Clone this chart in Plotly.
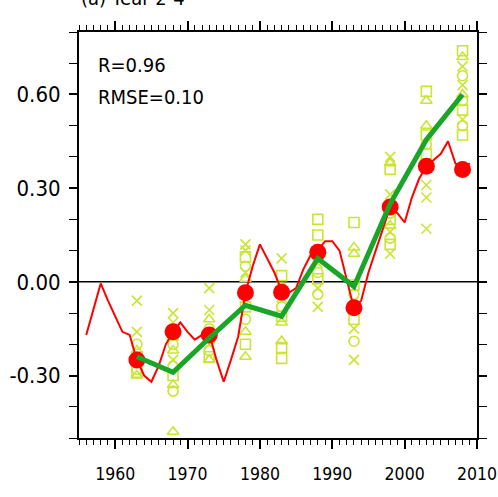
import plotly.graph_objects as go

# ---- data ----
obs_years = list(range(1956, 2010))
obs_values = [-0.17, -0.09, -0.005, -0.06, -0.11, -0.16, -0.17, -0.25, -0.30, -0.32,
              -0.27, -0.20, -0.16, -0.13, -0.16, -0.185, -0.17, -0.165, -0.25, -0.32,
              -0.25, -0.175, -0.035, 0.05, 0.12, 0.075, 0.03, -0.03, -0.035, -0.02,
              0.04, 0.085, 0.10, 0.13, 0.13, 0.10, 0.01, -0.085, -0.06, 0.03,
              0.10, 0.17, 0.24, 0.22, 0.19, 0.27, 0.33, 0.37, 0.39, 0.41,
              0.45, 0.38, 0.36, 0.38]

hind_years = [1963, 1968, 1973, 1978, 1983, 1988, 1993, 1998, 2003, 2008]
obs_5yr = [-0.25, -0.16, -0.17, -0.035, -0.033, 0.095, -0.083, 0.24, 0.37, 0.36]
ens_mean = [-0.24, -0.29, -0.18, -0.075, -0.11, 0.075, -0.015, 0.25, 0.455, 0.60]

member_x = [[-0.06, -0.16, -0.26], [-0.10, -0.13, -0.25], [-0.02, -0.09, -0.20],
            [0.12, 0.10, 0.03], [0.075, -0.05], [0.06, -0.02, -0.08],
            [-0.08, -0.15, -0.25], [0.40, 0.28, 0.16, 0.09], [0.31, 0.27, 0.17],
            [0.69, 0.63, 0.52]]
member_square = [[-0.24, -0.29], [-0.17, -0.30], [-0.18, -0.24],
                 [0.08, -0.08, -0.20], [0.02, -0.11, -0.21, -0.245], [0.20, 0.15, 0.01],
                 [0.19, -0.01, -0.12], [0.36, 0.20, 0.12], [0.61, 0.47, 0.41],
                 [0.74, 0.55, 0.47]]
member_triangle = [[-0.22, -0.30], [-0.22, -0.33, -0.48], [-0.12, -0.25],
                   [0.01, -0.16, -0.24], [-0.13, -0.19], [0.08],
                   [0.11, 0.09], [0.38, 0.18], [0.58, 0.50],
                   [0.72, 0.60]]
member_circle = [[-0.20, -0.28], [-0.20, -0.27, -0.35], [-0.15, -0.22],
                 [0.05, -0.03, -0.12], [-0.02, -0.08], [0.10, 0.03, -0.04],
                 [-0.04, -0.19], [0.22, 0.14], [0.44],
                 [0.66, 0.58, 0.50]]

y_tick_vals = [-0.3, 0.0, 0.3, 0.6]
y_tick_text = ["-0.30", "0.00", "0.30", "0.60"]
x_tick_vals = [1960, 1970, 1980, 1990, 2000, 2010]

stats_text = ["R=0.96", "RMSE=0.10"]
panel_title = "(a) Year 2-4"

# ---- figure ----
LIME = "rgb(200,230,50)"
FONT = "Liberation Sans Narrow, DejaVu Sans Condensed, Liberation Sans, Arial, sans-serif"

fig = go.Figure()

fig.add_hline(y=0, line=dict(color="black", width=1.5), layer="below")


def flatten(groups):
    xs, ys = [], []
    for yr, vals in zip(hind_years, groups):
        for v in vals:
            xs.append(yr)
            ys.append(v)
    return xs, ys


for groups, sym in [(member_x, "x-thin-open"), (member_square, "square-open"),
                    (member_triangle, "triangle-up-open"), (member_circle, "circle-open")]:
    xs, ys = flatten(groups)
    fig.add_trace(go.Scatter(
        x=xs, y=ys, mode="markers",
        marker=dict(symbol=sym, size=10, color=LIME, line=dict(color=LIME, width=1.6)),
        showlegend=False, cliponaxis=True))

fig.add_trace(go.Scatter(x=obs_years, y=obs_values, mode="lines",
                         line=dict(color="#ff0000", width=2), showlegend=False))
fig.add_trace(go.Scatter(x=hind_years, y=obs_5yr, mode="markers",
                         marker=dict(symbol="circle", size=17, color="#ff0000"),
                         showlegend=False))
fig.add_trace(go.Scatter(x=hind_years, y=ens_mean, mode="lines",
                         line=dict(color="rgb(24,165,40)", width=5), showlegend=False))

fig.add_annotation(x=0.043, y=0.918, xref="paper", yref="paper", xanchor="left", yanchor="middle",
                   text=stats_text[0], showarrow=False, font=dict(size=20, color="black", family=FONT))
fig.add_annotation(x=0.043, y=0.84, xref="paper", yref="paper", xanchor="left", yanchor="middle",
                   text=stats_text[1], showarrow=False, font=dict(size=20, color="black", family=FONT))
fig.add_annotation(x=0.0, y=1.05, xref="paper", yref="paper", xanchor="left", yanchor="bottom",
                   text=panel_title, showarrow=False, font=dict(size=20, color="black", family=FONT))

fig.update_xaxes(range=[1955, 2010], tickvals=x_tick_vals, ticks="outside", ticklen=9,
                 tickwidth=2, tickcolor="black", showline=True, linecolor="black", linewidth=2,
                 mirror="ticks", showgrid=False, zeroline=False, ticklabeloverflow="allow",
                 ticklabelstandoff=10, automargin=False,
                 tickfont=dict(size=17.5, color="black", family=FONT),
                 minor=dict(dtick=1, tick0=1955, ticks="outside", ticklen=5, tickwidth=1,
                            tickcolor="black", showgrid=False))
fig.update_yaxes(range=[-0.5, 0.8], tickvals=y_tick_vals, ticktext=y_tick_text,
                 ticks="outside", ticklen=8, tickwidth=2, tickcolor="black",
                 showline=True, linecolor="black", linewidth=2, mirror="ticks",
                 showgrid=False, zeroline=False, ticklabelstandoff=4, automargin=False,
                 tickfont=dict(size=22, color="black", family=FONT),
                 minor=dict(dtick=0.1, tick0=0, ticks="outside", ticklen=8, tickwidth=1,
                            tickcolor="black", showgrid=False))

fig.update_layout(width=498, height=497, margin=dict(l=79, r=21, t=32, b=59, autoexpand=False),
                  plot_bgcolor="white", paper_bgcolor="white",
                  font=dict(family=FONT, color="black"))

fig.write_html("out.html")
